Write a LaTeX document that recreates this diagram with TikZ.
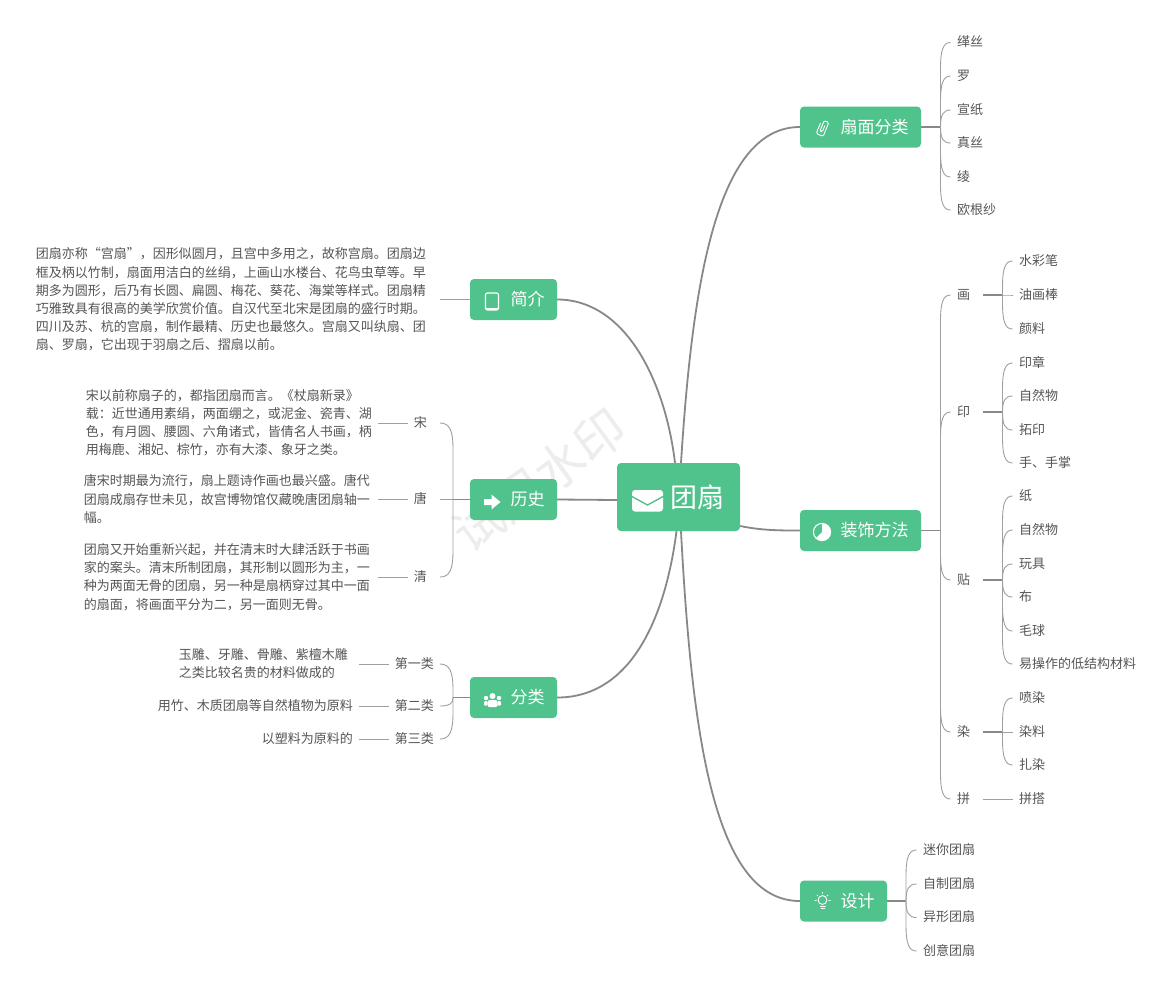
\documentclass[tikz,border=0pt]{standalone}
\usepackage{fontspec}
\setmainfont{Noto Sans CJK SC}
\usetikzlibrary{calc}
\definecolor{grn}{RGB}{80,195,141}
\definecolor{txt}{RGB}{85,85,85}
\definecolor{lnk}{RGB}{136,136,136}
\definecolor{thn}{RGB}{160,160,160}
\newcommand\lfR[1]{#1\hspace*{6.5pt}}
\newcommand\brR[2]{\draw[leaflink] let \p1=(#1),\p2=(#2.west),\n1={min(26,abs(\y1-\y2))*sign(\y1-\y2)} in (\p1) -- (\x1,{\y2+\n1}) .. controls (\x1,{\y2+0.3*\n1}) and ({\x1+0.25*(\x2-\x1)},\y2) .. (\p2);}
\newcommand\brL[2]{\draw[leaflink] let \p1=(#1),\p2=(#2.east),\n1={min(26,abs(\y1-\y2))*sign(\y1-\y2)} in (\p1) -- (\x1,{\y2+\n1}) .. controls (\x1,{\y2+0.3*\n1}) and ({\x1+0.25*(\x2-\x1)},\y2) .. (\p2);}
\tikzset{
  x=1pt,y=-1pt,
  rootbox/.style={fill=grn,rounded corners=4pt,text=white,minimum width=123pt,minimum height=68pt,inner sep=0pt,text height=23.76pt,text depth=3.12pt,font=\fontsize{27}{30}\selectfont},
  branch/.style={fill=grn,rounded corners=4pt,text=white,minimum height=41pt,inner sep=0pt,text height=14.96pt,text depth=2.04pt,font=\fontsize{17}{20}\selectfont},
  leaf/.style={text=txt,inner ysep=2pt,inner xsep=0pt,text height=10.2pt,text depth=1.56pt,font=\fontsize{13}{16}\selectfont},
  desc/.style={text=txt,inner ysep=0pt,inner xsep=6pt,align=left,font=\fontsize{13}{18.2}\selectfont},
  mainlink/.style={draw=lnk,line width=1.8pt},
  stemlink/.style={draw=lnk,line width=1.3pt},
  leaflink/.style={draw=thn,line width=0.9pt},
  icon/.style={draw=white,line width=1.1pt},
}
\begin{document}
\begin{tikzpicture}
\useasboundingbox (0,0) rectangle (1172,994);
\fill[white] (0,0) rectangle (1172,994);
\node[rotate=36,text=black!7,font=\fontsize{50}{54}\selectfont] (mark) at (539,480) {试用水印};

% nodes
\node[rootbox] (root) at (678.5,497) {\hspace*{38pt}团扇};
\node[branch,minimum width=121pt] (shan) at (860.5,127) {\hspace*{28pt}扇面分类};
\node[branch,minimum width=121pt] (zhuang) at (860.5,530.5) {\hspace*{28pt}装饰方法};
\node[branch,minimum width=87pt] (sheji) at (843.5,901) {\hspace*{28pt}设计};
\node[branch,minimum width=87pt] (jian) at (513.5,299.5) {\hspace*{28pt}简介};
\node[branch,minimum width=87pt] (li) at (513.5,499.5) {\hspace*{28pt}历史};
\node[branch,minimum width=87pt] (fen) at (513.5,697.5) {\hspace*{28pt}分类};

% main connectors
\draw[mainlink] ([xshift=2.5pt]root.north) .. controls (692,290) and (715,127) .. (shan.west);
\draw[mainlink] (jian.east) .. controls (625,299.5) and (665,380) .. ([xshift=-3.5pt]root.north);
\draw[mainlink] (li.east) -- ([yshift=-3pt]root.west);
\draw[mainlink] (fen.east) .. controls (630,697.5) and (665,620) .. ([xshift=-2pt]root.south);
\draw[mainlink] ([yshift=-29pt]root.east) .. controls (762,530.5) and (780,530.5) .. (zhuang.west);
\draw[mainlink] ([xshift=2.5pt]root.south) .. controls (692,740) and (715,901) .. (sheji.west);

% 扇面分类
\coordinate (sp1) at (940.5,127);
\draw[stemlink] (shan.east) -- (sp1);
\foreach \kk/\lab/\ypos in {a/缂丝/42.5,b/罗/76,c/宣纸/110,d/真丝/143,e/绫/177,f/欧根纱/210}{
  \node[leaf,anchor=west] (s\kk) at (950.5,\ypos) {\lfR{\hspace*{6.5pt}\lab}};
  \brR{sp1}{s\kk}
}

% 装饰方法
\coordinate (sp2) at (940.5,530.5);
\draw[stemlink] (zhuang.east) -- (sp2);
\foreach \kk/\lab/\ypos in {hua/画/295,yin/印/412,tie/贴/580,ran/染/732,pin/拼/799}{
  \node[leaf,anchor=west] (z\kk) at (950.5,\ypos) {\hspace*{6.5pt}\lab\hspace*{13pt}};
  \brR{sp2}{z\kk}
}
\coordinate (sh) at (1002.5,295);
\coordinate (sy) at (1002.5,412);
\coordinate (st) at (1002.5,580);
\coordinate (sr) at (1002.5,732);
\coordinate (sq) at (1002.5,799);
\draw[stemlink] (zhua.east) -- (sh);
\draw[stemlink] (zyin.east) -- (sy);
\draw[stemlink] (ztie.east) -- (st);
\draw[stemlink] (zran.east) -- (sr);
\draw[leaflink] (zpin.east) -- (sq);
\foreach \kk/\lab/\ypos/\spn in {h1/水彩笔/261/sh,h2/油画棒/295/sh,h3/颜料/329/sh,
  y1/印章/363/sy,y2/自然物/396/sy,y3/拓印/430/sy,y4/手、手掌/463/sy,
  t1/纸/496/st,t2/自然物/530/st,t3/玩具/564/st,t4/布/597/st,t5/毛球/631/st,t6/易操作的低结构材料/664/st,
  r1/喷染/698/sr,r2/染料/732/sr,r3/扎染/765/sr,p1/拼搭/799/sq}{
  \node[leaf,anchor=west] (c\kk) at (1012.5,\ypos) {\hspace*{6.5pt}\lab\hspace*{6.5pt}};
  \brR{\spn}{c\kk}
}

% 设计
\coordinate (sp3) at (906,901);
\draw[stemlink] (sheji.east) -- (sp3);
\foreach \kk/\lab/\ypos in {a/迷你团扇/850,b/自制团扇/884,c/异形团扇/917.5,d/创意团扇/951}{
  \node[leaf,anchor=west] (d\kk) at (916.5,\ypos) {\hspace*{6.5pt}\lab};
  \brR{sp3}{d\kk}
}

% 简介
\node[desc,anchor=east,inner xsep=14pt] (jd) at (440,299.5) {团扇亦称“宫扇”，因形似圆月，且宫中多用之，故称宫扇。团扇边\\框及柄以竹制，扇面用洁白的丝绢，上画山水楼台、花鸟虫草等。早\\期多为圆形，后乃有长圆、扁圆、梅花、葵花、海棠等样式。团扇精\\巧雅致具有很高的美学欣赏价值。自汉代至北宋是团扇的盛行时期。\\四川及苏、杭的宫扇，制作最精、历史也最悠久。宫扇又叫纨扇、团\\扇、罗扇，它出现于羽扇之后、摺扇以前。};
\draw[leaflink] (jd.east) -- (jian.west);

% 历史
\coordinate (sp4) at (453,499.5);
\draw[stemlink] (li.west) -- (sp4);
\node[leaf,anchor=east] (song) at (440,423) {\hspace*{6pt}宋\hspace*{13pt}};
\node[leaf,anchor=east] (tang) at (440,499.5) {\hspace*{6pt}唐\hspace*{13pt}};
\node[leaf,anchor=east] (qing) at (440,577) {\hspace*{6pt}清\hspace*{13pt}};
\brL{sp4}{song}
\brL{sp4}{tang}
\brL{sp4}{qing}
\node[desc,anchor=east] (sd) at (378,422.5) {宋以前称扇子的，都指团扇而言。《杖扇新录》\\载：近世通用素绢，两面绷之，或泥金、瓷青、湖\\色，有月圆、腰圆、六角诸式，皆倩名人书画，柄\\用梅鹿、湘妃、棕竹，亦有大漆、象牙之类。};
\node[desc,anchor=east,inner xsep=8pt] (td) at (378,499) {唐宋时期最为流行，扇上题诗作画也最兴盛。唐代\\团扇成扇存世未见，故宫博物馆仅藏晚唐团扇轴一\\幅。};
\node[desc,anchor=east,inner xsep=8pt] (qd) at (378,577) {团扇又开始重新兴起，并在清末时大肆活跃于书画\\家的案头。清末所制团扇，其形制以圆形为主，一\\种为两面无骨的团扇，另一种是扇柄穿过其中一面\\的扇面，将画面平分为二，另一面则无骨。};
\draw[leaflink] (sd.east |- song.west) -- (song.west);
\draw[leaflink] (td.east |- tang.west) -- (tang.west);
\draw[leaflink] (qd.east |- qing.west) -- (qing.west);

% 分类
\coordinate (sp5) at (453,697.5);
\draw[stemlink] (fen.west) -- (sp5);
\node[leaf,anchor=east] (f1) at (440,664) {\hspace*{6pt}第一类\hspace*{6pt}};
\node[leaf,anchor=east] (f2) at (440,706) {\hspace*{6pt}第二类\hspace*{6pt}};
\node[leaf,anchor=east] (f3) at (440,739) {\hspace*{6pt}第三类\hspace*{6pt}};
\brL{sp5}{f1}
\brL{sp5}{f2}
\brL{sp5}{f3}
\node[desc,anchor=east,text width=174pt] (fd1) at (359,663.5) {玉雕、牙雕、骨雕、紫檀木雕\\之类比较名贵的材料做成的};
\node[leaf,anchor=east,inner xsep=6pt] (fd2) at (359,706) {用竹、木质团扇等自然植物为原料};
\node[leaf,anchor=east,inner xsep=6pt] (fd3) at (359,739) {以塑料为原料的};
\draw[leaflink] (fd1.east |- f1.west) -- (f1.west);
\draw[leaflink] (fd2.east) -- (f2.west);
\draw[leaflink] (fd3.east) -- (f3.west);

% icons
\fill[white,rounded corners=3pt] (632,490) rectangle (663,511.5);
\draw[grn,line width=1.4pt] (631,496) -- (647.5,505) -- (664,496);
% phone
\draw[icon,line width=1.2pt,rounded corners=2pt] (485.5,293) rectangle (498.5,310);
\fill[white] (486,307.8) rectangle (498,310);
% arrow
\fill[white] (484,499) -- (491.5,499) -- (491.5,494.5) -- (500.5,502) -- (491.5,509.5) -- (491.5,505) -- (484,505) -- cycle;
% people
\fill[white] (492.5,696) circle (3pt) (486,698) circle (2.2pt) (499,698) circle (2.2pt);
\fill[white,rounded corners=1.5pt] (487.5,700) rectangle (497.5,707);
\fill[white,rounded corners=1pt] (484,701) rectangle (487.5,705.5);
\fill[white,rounded corners=1pt] (497.5,701) rectangle (501,705.5);
% pie
\draw[icon] (822,532) circle (8.6pt);
\fill[white] (822,532) -- (822,523.4) arc[start angle=90,end angle=-135,radius=8.6pt] -- cycle;
% clip
\begin{scope}[shift={(822.5,128)},rotate=-22,scale=1.25]
\draw[draw=white,line width=0.9pt,rounded corners=1.4pt] (1,-2.5) -- (1,3) -- (-1,3) -- (-1,-6) -- (3,-6) -- (3,6) -- (-3,6) -- (-3,-3);
\end{scope}
% bulb
\draw[icon,line width=.9pt] (822.5,900) circle (4.4pt);
\draw[icon,line width=.9pt] (819.5,906) -- (825.5,906) (820.5,908.5) -- (824.5,908.5);
\draw[icon,line width=.8pt] (814.5,900.5) -- (816.5,900.5) (828.5,900.5) -- (830.5,900.5) (816.8,894.8) -- (818.2,896) (828.2,894.8) -- (826.8,896) (822.5,892) -- (822.5,893.5);
\end{tikzpicture}
\end{document}
